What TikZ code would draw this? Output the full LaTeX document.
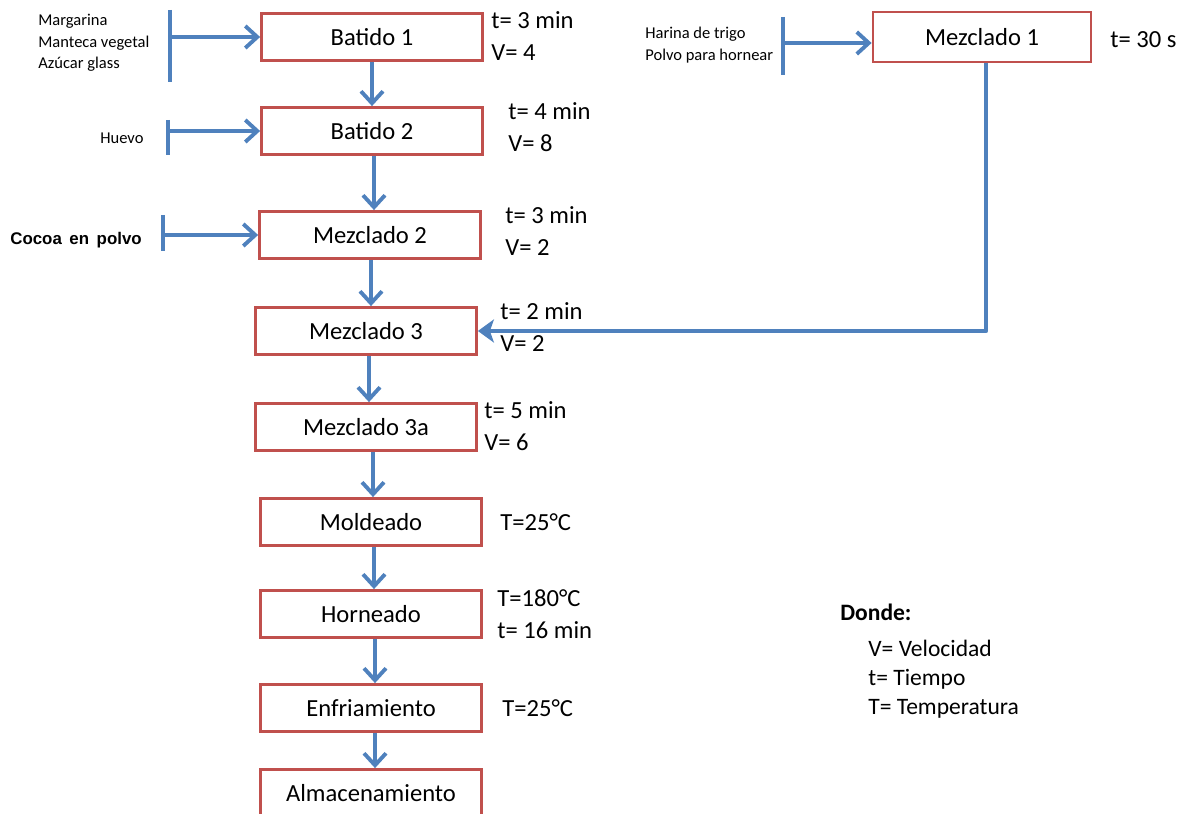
\documentclass[tikz,border=0pt]{standalone}
\usepackage{fontspec}
\setmainfont{Carlito}
\newfontfamily\arialfont{Liberation Sans}
\usepackage{xcolor}
\usetikzlibrary{arrows.meta,positioning}

\definecolor{flowblue}{RGB}{79,129,189}
\definecolor{boxred}{RGB}{192,80,77}

\begin{document}
\begin{tikzpicture}[
    x=0.02cm, y=-0.02cm,
    stepbox/.style={
        rectangle, draw=boxred, fill=white, line width=1.6pt,
        minimum width=4.42cm, minimum height=0.94cm,
        font=\fontsize{14}{17}\selectfont, inner sep=2pt
    },
    param/.style={
        anchor=west, align=left, inner sep=0pt,
        font=\fontsize{14}{18.2}\selectfont
    },
    ingr/.style={
        align=left, inner sep=0pt,
        font=\fontsize{9.4}{12.2}\selectfont
    },
    arr/.style={-{Straight Barb[length=2.4mm,width=4.4mm,line width=2.2pt]}, line width=2.2pt, flowblue},
    arrfill/.style={-{Stealth[length=3.2mm,width=4.6mm,inset=0.8mm]}, line width=2.4pt, flowblue},
    feed/.style={line width=2.6pt, flowblue}
]
    \useasboundingbox (0,0) rectangle (1179,814);

    % main line
    \node[stepbox] (b1) at (372, 37)  {Batido 1};
    \node[stepbox] (b2) at (372, 131) {Batido 2};
    \node[stepbox] (m2) at (370, 235) {Mezclado 2};
    \node[stepbox] (m3) at (366, 331) {Mezclado 3};
    \node[stepbox] (m3a) at (366, 427) {Mezclado 3a};
    \node[stepbox] (mo) at (371, 522) {Moldeado};
    \node[stepbox] (ho) at (371, 614) {Horneado};
    \node[stepbox] (en) at (371, 708) {Enfriamiento};
    \node[stepbox] (al) at (371, 793) {Almacenamiento};
    \node[stepbox, minimum width=4.36cm, minimum height=1.0cm] (m1) at (982, 37) {Mezclado 1};

    \draw[arr] (b1.south) -- (b1.south |- b2.north);
    \draw[arr] ([xshift=0.04cm]b2.south) -- ([xshift=0.04cm]b2.south |- m2.north);
    \draw[arr] ([xshift=0.02cm]m2.south) -- ([xshift=0.02cm]m2.south |- m3.north);
    \draw[arr] ([xshift=0.06cm]m3.south) -- ([xshift=0.06cm]m3.south |- m3a.north);
    \draw[arr] ([xshift=0.14cm]m3a.south) -- ([xshift=0.14cm]m3a.south |- mo.north);
    \draw[arr] ([xshift=0.06cm]mo.south) -- ([xshift=0.06cm]mo.south |- ho.north);
    \draw[arr] ([xshift=0.08cm]ho.south) -- ([xshift=0.08cm]ho.south |- en.north);
    \draw[arr] ([xshift=0.08cm]en.south) -- ([xshift=0.08cm]en.south |- al.north);

    % Mezclado 1 to Mezclado 3
    \coordinate (turn) at (986, 331);
    \draw[arrfill, line join=round] (m1.south -| turn) -- (turn) -- (m3.east);

    % ingredients
    \node[ingr, anchor=west] (in1) at (38, 43) {Margarina\\Manteca vegetal\\Azúcar glass};
    \node[ingr, anchor=west] (in2) at (100, 138) {Huevo};
    \node[anchor=west, inner sep=0pt, font=\arialfont\bfseries\fontsize{9.6}{12}\selectfont] (in3) at (10, 240) {Cocoa\hspace{0.45em}en\hspace{0.45em}polvo};
    \node[ingr, anchor=west] (in4) at (645, 45) {Harina de trigo\\Polvo para hornear};

    \coordinate (f1a) at (170, 10);  \coordinate (f1b) at (170, 82);
    \coordinate (f2a) at (168, 120); \coordinate (f2b) at (168, 155);
    \coordinate (f3a) at (163, 215); \coordinate (f3b) at (163, 251);
    \coordinate (f4a) at (783, 17);  \coordinate (f4b) at (783, 75);
    \draw[feed] (f1a) -- (f1b);
    \draw[feed] (f2a) -- (f2b);
    \draw[feed] (f3a) -- (f3b);
    \draw[feed] (f4a) -- (f4b);
    \draw[arr] (f1a |- b1) -- (b1.west);
    \draw[arr] (f2a |- b2) -- (b2.west);
    \draw[arr] (f3a |- m2) -- (m2.west);
    \draw[arr] (783, 43) -- (m1.west |- 0, 43);

    % conditions
    \node[param] (p1) at (491, 36)  {t= 3 min\\V= 4};
    \node[param] (p2) at (508, 127) {t= 4 min\\V= 8};
    \node[param] (p3) at (505, 231) {t= 3 min\\V= 2};
    \node[param] (p4) at (500, 327) {t= 2 min\\V= 2};
    \node[param] (p5) at (484, 426) {t= 5 min\\V= 6};
    \node[param] (p6) at (500, 522) {T=25°C};
    \node[param] (p7) at (497, 614) {T=180°C\\t= 16 min};
    \node[param] (p8) at (502, 708) {T=25°C};
    \node[param] (p9) at (1110, 40) {t= 30 s};

    % legend
    \node[anchor=west, inner sep=0pt, font=\bfseries\fontsize{13.4}{16}\selectfont] (dn) at (840, 612) {Donde:};
    \node[anchor=north west, align=left, inner sep=0pt, font=\fontsize{13.4}{16.4}\selectfont] (lg) at (868, 640) {V= Velocidad\\t= Tiempo\\T= Temperatura};
\end{tikzpicture}
\end{document}
